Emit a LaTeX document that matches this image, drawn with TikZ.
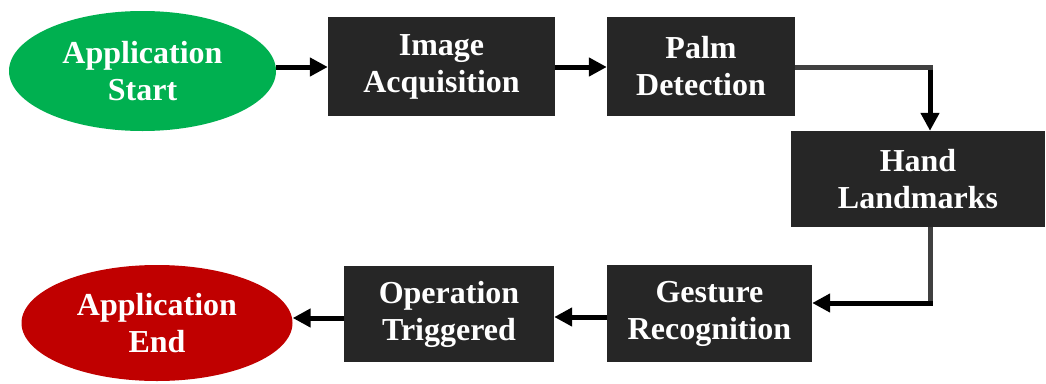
\documentclass[tikz,border=0pt]{standalone}
\usepackage{fontspec}
\setmainfont{Liberation Serif}
\usetikzlibrary{arrows.meta,shapes.geometric}
\definecolor{boxc}{HTML}{262626}
\definecolor{greenc}{HTML}{00B050}
\definecolor{redc}{HTML}{C00000}
\definecolor{linegray}{HTML}{404040}
\begin{document}
\begin{tikzpicture}[x=1pt,y=-1pt,
  every node/.style={text=white,font=\fontsize{32}{37}\selectfont\bfseries,align=center,inner sep=0pt},
  blk/.style={fill=boxc,draw=none,rectangle},
  oval/.style={ellipse,draw=none},
  arr/.style={line width=5pt,draw=black,-{Triangle[length=18pt,width=18pt]}},
  gline/.style={line width=5pt,draw=linegray}]
\useasboundingbox (0,0) rectangle (1046,383);
\node[oval,fill=greenc,minimum width=267pt,minimum height=120pt] (start) at (142.5,71) {Application\\Start};
\node[blk,minimum width=227pt,minimum height=99pt] (img) at (441.5,66.5) {Image\\Acquisition};
\node[blk,minimum width=188pt,minimum height=99pt] (palm) at (701,66.5) {Palm\\Detection};
\node[blk,minimum width=254pt,minimum height=96pt] (hand) at (918,179) {Hand\\Landmarks};
\node[blk,minimum width=205pt,minimum height=97pt] (gest) at (709.5,313.5) {Gesture\\Recognition};
\node[blk,minimum width=210pt,minimum height=96pt] (oper) at (449,314) {Operation\\Triggered};
\node[oval,fill=redc,minimum width=271pt,minimum height=116pt] (end) at (157,323) {Application\\End};
\coordinate (c1) at (930,67);
\coordinate (c2) at (930,303);
\draw[arr] (start.east |- 0,67) -- (img.west |- 0,67);
\draw[arr] (img.east |- 0,67) -- (palm.west |- 0,67);
\draw[gline] (palm.east |- c1) -- ([xshift=2.5pt]c1);
\draw[arr] ([yshift=-2.5pt]c1) -- (c1 |- hand.north);
\draw[gline] (c1 |- hand.south) -- ([yshift=2.5pt]c2);
\draw[arr] ([xshift=2.5pt]c2) -- (c2 -| gest.east);
\draw[arr] (gest.west |- 0,317) -- (oper.east |- 0,317);
\draw[arr] (oper.west |- 0,318) -- (end.east |- 0,318);
\end{tikzpicture}
\end{document}
